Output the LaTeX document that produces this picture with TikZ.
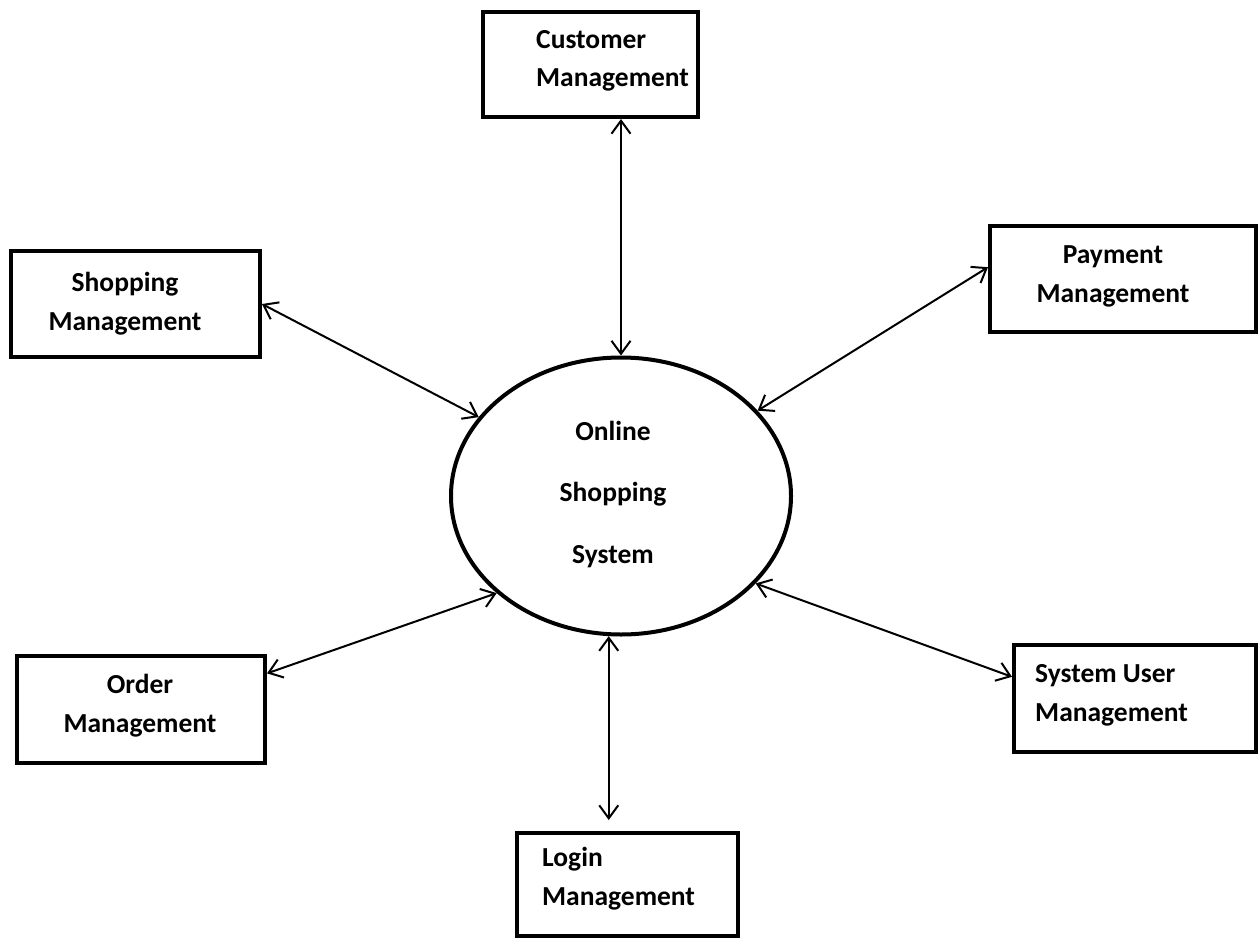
\documentclass[tikz,border=0pt]{standalone}
\usepackage{fontspec}
\setmainfont{Carlito}
\usetikzlibrary{arrows.meta,shapes.geometric}
\begin{document}
\begin{tikzpicture}[x=1pt,y=-1pt,
  box/.style={draw,line width=4pt,inner sep=0pt},
  lbl/.style={font=\bfseries\fontsize{27.5}{38.5}\selectfont,inner sep=0pt},
  arr/.style={line width=2pt,{Straight Barb[length=13pt,width=19pt]}-{Straight Barb[length=13pt,width=19pt]}}]
\useasboundingbox[fill=white] (0,0) rectangle (1260,939);
% boxes
\node[box, minimum width=215pt, minimum height=105pt] (cust) at (590.5,64.5) {};
\node[box, minimum width=249pt, minimum height=106pt] (shop) at (135.5,304) {};
\node[box, minimum width=266pt, minimum height=106pt] (pay) at (1123,279) {};
\node[box, minimum width=248pt, minimum height=107pt] (order) at (141,709.5) {};
\node[box, minimum width=242pt, minimum height=107pt] (suser) at (1135,698.5) {};
\node[box, minimum width=221pt, minimum height=103pt] (login) at (627.5,884.5) {};
% central process
\node[draw, ellipse, line width=4pt, inner sep=0pt, minimum width=340pt, minimum height=277pt] (sys) at (621,496) {};
% texts (anchor = baseline of last line)
\node[lbl, anchor=base west, align=left] (custT) at (536,87) {Customer\\Management};
\node[lbl, anchor=base, align=center] (shopT) at (125,330) {Shopping\\Management};
\node[lbl, anchor=base, align=center] (payT) at (1113,302) {Payment\\Management};
\node[lbl, anchor=base, align=center] (orderT) at (140,732) {Order\\Management};
\node[lbl, anchor=base west, align=left] (suserT) at (1035,721) {System User\\Management};
\node[lbl, anchor=base west, align=left] (loginT) at (542,905) {Login\\Management};
\node[lbl, anchor=base, align=center, font=\bfseries\fontsize{27.5}{61.5}\selectfont] (sysT) at (613,563) {Online\\Shopping\\System};
% connectors
\draw[arr] (sys.north) -- (sys.north |- cust.south);
\draw[arr, shorten >=11pt] (sys.-95.5) -- (sys.-95.5 |- login.north);
\draw[arr] (shop.east) -- (sys.151);
\draw[arr] (pay.175) -- (sys.32.5);
\draw[arr] (order.16) -- (sys.218.8);
\draw[arr] (suser.170) -- (sys.-33.4);
\end{tikzpicture}
\end{document}
